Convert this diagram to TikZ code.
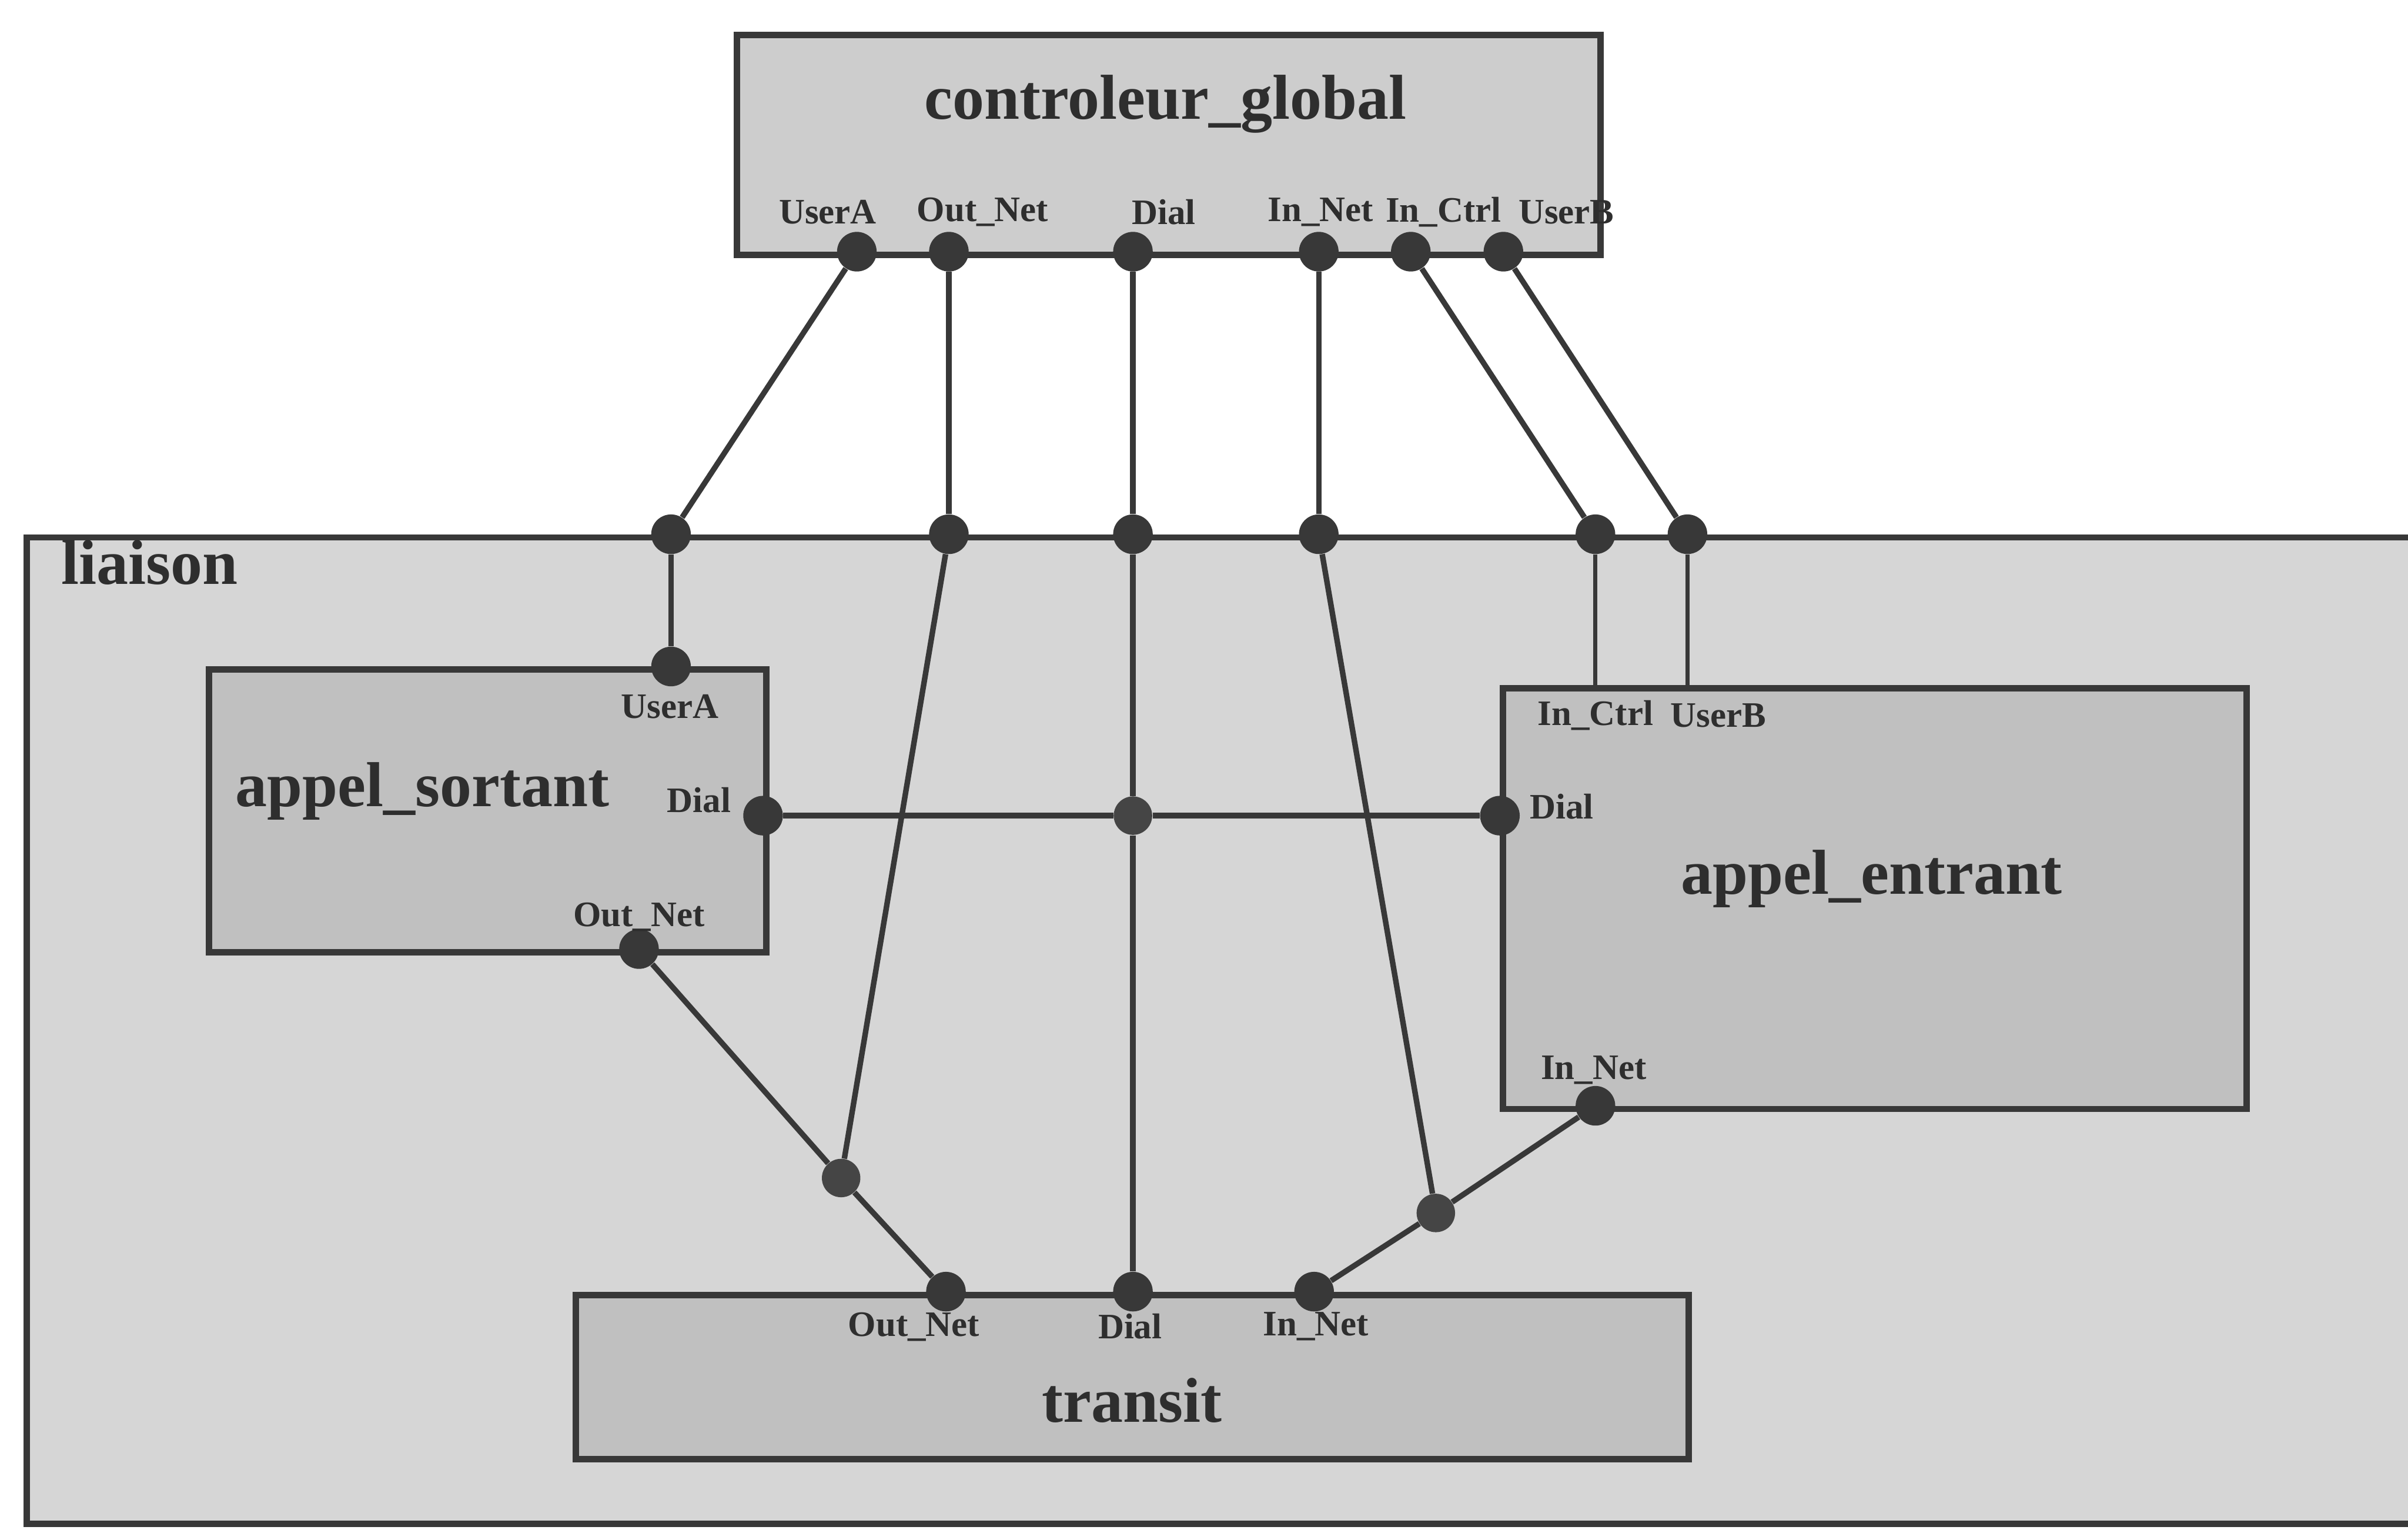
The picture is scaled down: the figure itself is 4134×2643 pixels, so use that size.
\documentclass[tikz,border=0pt]{standalone}
\usepackage{fontspec}
\setmainfont{Liberation Serif}
\definecolor{inkgray}{HTML}{383838}
\definecolor{textgray}{HTML}{2E2E2E}
\definecolor{outerfill}{HTML}{D6D6D6}
\definecolor{topfill}{HTML}{CDCDCD}
\definecolor{innerfill}{HTML}{C0C0C0}
\definecolor{joinfill}{HTML}{454545}
\begin{document}
\begin{tikzpicture}[x=0.1mm,y=-0.1mm,
  block/.style={draw=inkgray, line width=1.1mm, rectangle, inner sep=0pt, anchor=north west},
  port/.style={circle, fill=inkgray, inner sep=0pt, minimum size=6.8mm},
  joint/.style={circle, fill=joinfill, inner sep=0pt, minimum size=6.6mm},
  wire/.style={draw=inkgray, line width=0.95mm},
  thinwire/.style={draw=inkgray, line width=0.7mm},
  title/.style={text=textgray, inner sep=0pt, font=\fontsize{31}{36}\selectfont\bfseries},
  plabel/.style={text=textgray, inner sep=0pt, font=\fontsize{17.5}{20}\selectfont\bfseries}]

\useasboundingbox (0,0) rectangle (4134,2643);
\clip (0,0) rectangle (4134,2643);
\fill[white] (0,0) rectangle (4134,2643);

% enclosing block "liaison" (runs past the right edge)
\node[block, fill=outerfill, minimum width=430mm, minimum height=169.3mm] (liaison) at (40,917) {};
\node[title, anchor=north west] (tliaison) at (105,926) {liaison};

% global controller
\node[block, fill=topfill, minimum width=148.2mm, minimum height=37.7mm] (ctrl) at (1260,55) {};
\node[title] (tctrl) at (2001,179) {controleur\_global};

% inner blocks
\node[block, fill=innerfill, minimum width=95.7mm, minimum height=48.5mm] (sort) at (353,1144) {};
\node[title] (tsort) at (725,1358) {appel\_sortant};

\node[block, fill=innerfill, minimum width=127.6mm, minimum height=72.2mm] (entr) at (2575,1176) {};
\node[title] (tentr) at (3213,1508) {appel\_entrant};

\node[block, fill=innerfill, minimum width=191.1mm, minimum height=28.2mm] (trans) at (983,2217) {};
\node[title] (ttrans) at (1943,2404) {transit};

% ports of controleur_global
\node[port] (cUA) at (1471,432) {};
\node[port] (cON) at (1629,432) {};
\node[port] (cD)  at (1945,432) {};
\node[port] (cIN) at (2264,432) {};
\node[port] (cIC) at (2422,432) {};
\node[port] (cUB) at (2581,432) {};

% ports of liaison
\node[port] (lUA) at (1152,917) {};
\node[port] (lON) at (1629,917) {};
\node[port] (lD)  at (1945,917) {};
\node[port] (lIN) at (2264,917) {};
\node[port] (lIC) at (2739,917) {};
\node[port] (lUB) at (2897,917) {};

% ports of appel_sortant
\node[port] (sUA) at (1152,1144) {};
\node[port] (sD)  at (1310,1400) {};
\node[port] (sON) at (1097,1629) {};

% ports of appel_entrant
\node[port] (eD)  at (2575,1400) {};
\node[port] (eIN) at (2739,1898) {};
\coordinate (eIC) at (2739,1176);
\coordinate (eUB) at (2897,1176);

% ports of transit
\node[port] (tON) at (1624,2217) {};
\node[port] (tD)  at (1945,2217) {};
\node[port] (tIN) at (2256,2217) {};

% junctions inside liaison
\node[joint] (jD)  at (1945,1400) {};
\node[joint] (jON) at (1444,2022) {};
\node[joint] (jIN) at (2465,2082) {};

% connections between controleur_global and liaison
\draw[wire] (cUA) -- (lUA);
\draw[wire] (cON) -- (lON);
\draw[wire] (cD)  -- (lD);
\draw[wire] (cIN) -- (lIN);
\draw[wire] (cIC) -- (lIC);
\draw[wire] (cUB) -- (lUB);

% connections inside liaison
\draw[wire] (lUA) -- (sUA);
\draw[thinwire] (lIC) -- (eIC);
\draw[thinwire] (lUB) -- (eUB);

\draw[wire] (lD) -- (jD);
\draw[wire] (jD) -- (tD);
\draw[wire] (sD) -- (jD);
\draw[wire] (jD) -- (eD);

\draw[wire] (lON) -- (jON);
\draw[wire] (sON) -- (jON);
\draw[wire] (jON) -- (tON);

\draw[wire] (lIN) -- (jIN);
\draw[wire] (eIN) -- (jIN);
\draw[wire] (jIN) -- (tIN);

% port names of controleur_global
\node[plabel] (ncUA) at (1421,364) {UserA};
\node[plabel] (ncON) at (1687,364) {Out\_Net};
\node[plabel] (ncD)  at (1998,364) {Dial};
\node[plabel] (ncIN) at (2267,364) {In\_Net};
\node[plabel] (ncIC) at (2478,364) {In\_Ctrl};
\node[plabel] (ncUB) at (2689,364) {UserB};

% port names of appel_sortant
\node[plabel] (nsUA) at (1150,1213) {UserA};
\node[plabel] (nsD)  at (1200,1373) {Dial};
\node[plabel] (nsON) at (1097,1574) {Out\_Net};

% port names of appel_entrant
\node[plabel] (neIC) at (2739,1228) {In\_Ctrl};
\node[plabel] (neUB) at (2950,1228) {UserB};
\node[plabel] (neD)  at (2681,1384) {Dial};
\node[plabel] (neIN) at (2736,1837) {In\_Net};

% port names of transit
\node[plabel] (ntON) at (1569,2277) {Out\_Net};
\node[plabel] (ntD)  at (1940,2277) {Dial};
\node[plabel] (ntIN) at (2259,2277) {In\_Net};
\end{tikzpicture}
\end{document}
